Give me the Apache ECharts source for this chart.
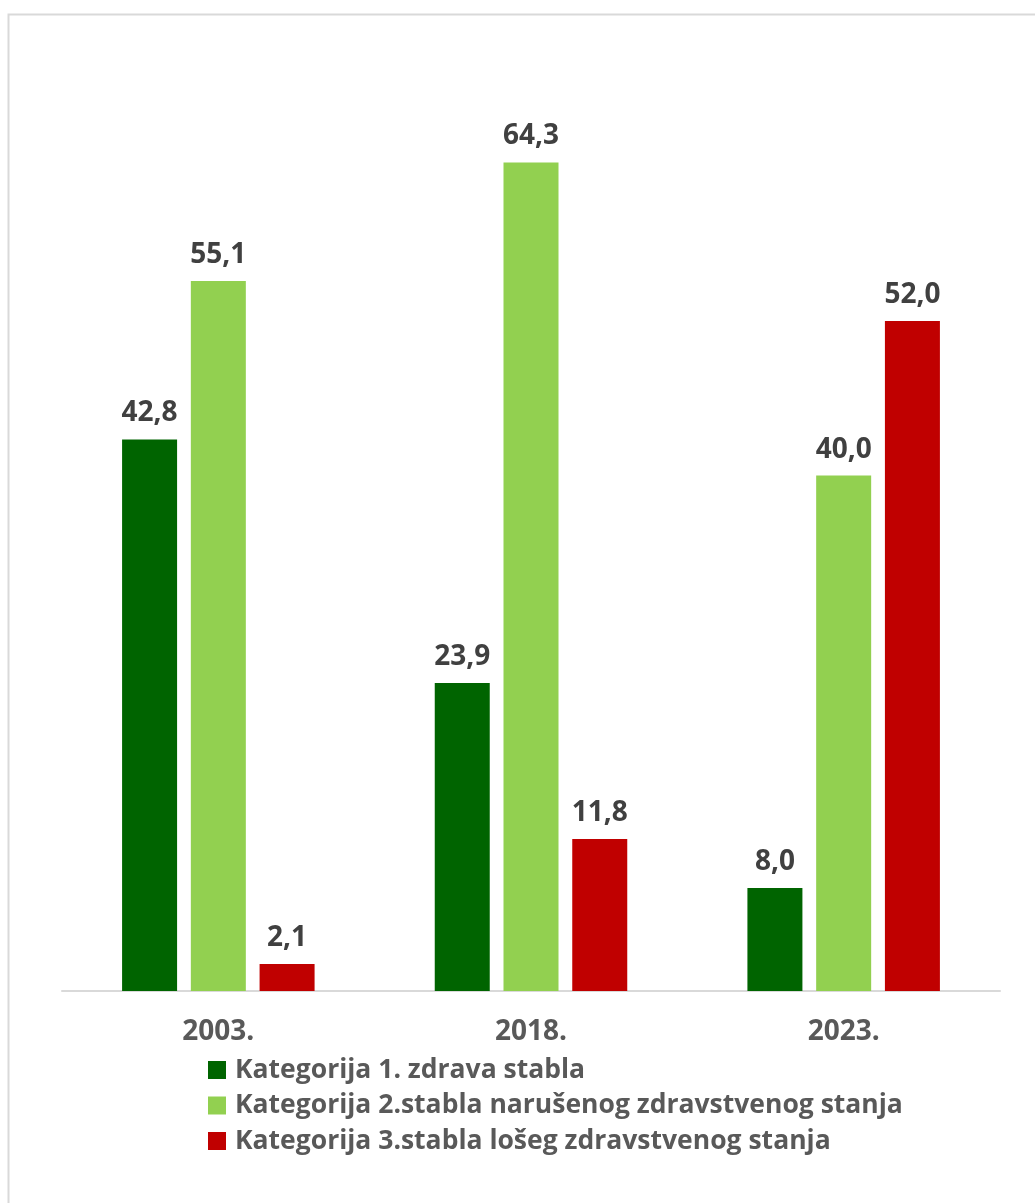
<!DOCTYPE html>
<html>
<head>
<meta charset="utf-8">
<script src="https://cdn.jsdelivr.net/npm/echarts@6/dist/echarts.min.js"></script>
<style>
html,body{margin:0;padding:0;background:#fff;}
#chart{width:1035px;height:1203px;}
</style>
</head>
<body>
<div id="chart"></div>
<script>
const categories = ['2003.', '2018.', '2023.'];
const seriesNames = [
  'Kategorija 1. zdrava stabla',
  'Kategorija 2.stabla narušenog zdravstvenog stanja',
  'Kategorija 3.stabla lošeg zdravstvenog stanja'
];
const cat1 = [42.8, 23.9, 8.0];
const cat2 = [55.1, 64.3, 40.0];
const cat3 = [2.1, 11.8, 52.0];
const colors = ['#006400', '#92D050', '#C00000'];

const FONT = "'Open Sans', sans-serif";
const chart = echarts.init(document.getElementById('chart'));

function mkSeries(name, data, color) {
  return {
    name: name,
    type: 'bar',
    data: data,
    barWidth: 55,
    barGap: '25%',
    itemStyle: { color: color },
    label: {
      show: true,
      position: 'top',
      distance: 12,
      fontFamily: FONT,
      fontWeight: 'bold',
      fontSize: 28,
      color: '#404040',
      formatter: p => p.value.toFixed(1).replace('.', ',')
    }
  };
}

chart.setOption({
  animation: false,
  backgroundColor: '#fff',
  graphic: [{
    type: 'rect',
    shape: { x: 8.5, y: 14.5, width: 2000, height: 2000 },
    style: { fill: 'none', stroke: '#d9d9d9', lineWidth: 2 },
    silent: true
  }],
  grid: { left: 62, right: 35, top: 89, bottom: 212, containLabel: false },
  xAxis: {
    type: 'category',
    data: categories,
    axisLine: { lineStyle: { color: '#d9d9d9', width: 2 } },
    axisTick: { show: false },
    axisLabel: {
      margin: 27,
      fontFamily: FONT,
      fontWeight: 'bold',
      fontSize: 28,
      color: '#595959'
    }
  },
  yAxis: {
    type: 'value',
    min: 0,
    max: 70,
    show: false,
    splitLine: { show: false }
  },
  legend: {
    orient: 'vertical',
    left: 208,
    top: 1055,
    padding: 0,
    itemWidth: 18,
    itemHeight: 18,
    itemGap: 5.5,
    icon: 'rect',
    textStyle: {
      fontFamily: FONT,
      fontWeight: 'bold',
      fontSize: 26.5,
      color: '#595959',
      lineHeight: 30,
      padding: [0, 0, 0, 4]
    },
    data: seriesNames
  },
  series: [
    mkSeries(seriesNames[0], cat1, colors[0]),
    mkSeries(seriesNames[1], cat2, colors[1]),
    mkSeries(seriesNames[2], cat3, colors[2])
  ]
});
</script>
</body>
</html>
